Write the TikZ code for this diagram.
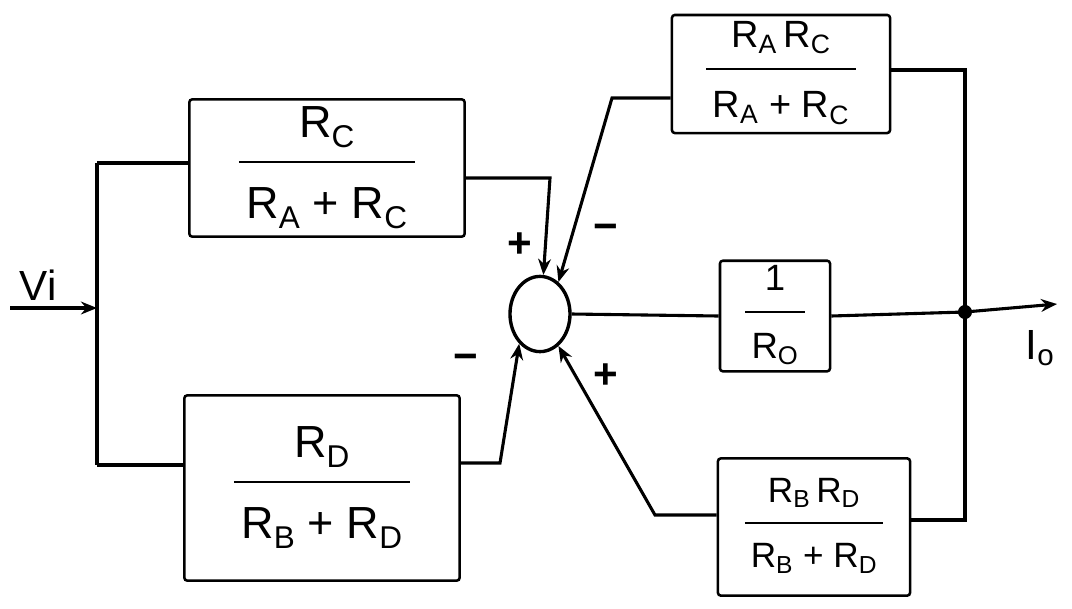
\documentclass[tikz,border=0pt]{standalone}
\usepackage{fontspec}
\setmainfont{Liberation Sans}
\usetikzlibrary{arrows.meta,shapes.geometric}
\setlength{\arrayrulewidth}{1.1pt}
\newcommand{\blkfrac}[2]{\begin{tabular}{@{\,}c@{\,}}#1\\[6pt]\hline\rule{0pt}{1.25em}#2\end{tabular}}

\begin{document}
\begin{tikzpicture}[x=0.025cm,y=-0.025cm,>={Stealth[length=4mm,width=3.2mm]},
 blk/.style={draw,line width=1.8pt,rounded corners=2pt,inner sep=0pt,align=center},
 w/.style={line width=2.2pt},
 a/.style={->,line width=2.2pt},
 sgn/.style={font=\fontsize{30}{32}\selectfont\bfseries}]
\useasboundingbox (0,0) rectangle (1072,608);

% forward blocks
\node[blk,minimum width=6.88cm,minimum height=3.43cm,font=\fontsize{32}{36}\selectfont] (tl) at (327,168)
 {\blkfrac{R\textsubscript{C}}{R\textsubscript{A} + R\textsubscript{C}}};
\node[blk,minimum width=6.88cm,minimum height=4.63cm,font=\fontsize{32}{36}\selectfont] (bl) at (322,488)
 {\blkfrac{R\textsubscript{D}}{R\textsubscript{B} + R\textsubscript{D}}};
\node[draw,ellipse,line width=2.4pt,minimum width=1.5cm,minimum height=1.88cm,inner sep=0pt] (sum) at (540,314) {};
\node[blk,minimum width=2.75cm,minimum height=2.58cm,font=\fontsize{26}{30}\selectfont] (ro) at (775,316)
 {\blkfrac{1}{R\textsubscript{O}}};
% feedback blocks
\node[blk,minimum width=5.45cm,minimum height=2.95cm,font=\fontsize{27}{30}\selectfont] (tr) at (781,74)
 {\blkfrac{R\textsubscript{A}\,R\textsubscript{C}}{R\textsubscript{A} + R\textsubscript{C}}};
\node[blk,minimum width=4.8cm,minimum height=3.43cm,font=\fontsize{25}{28}\selectfont] (br) at (814,527)
 {\blkfrac{R\textsubscript{B}\,R\textsubscript{D}}{R\textsubscript{B} + R\textsubscript{D}}};

\coordinate (vin) at (10,308);
\coordinate (jl) at (97,308);
\coordinate (jt) at (97,163);
\coordinate (jb) at (97,465);
\coordinate (tp) at (550,178);
\coordinate (bp) at (500,463);
\coordinate (fp) at (612,98);
\coordinate (gp) at (655,515);
\coordinate (jr) at (965,312);
\coordinate (jtop) at (965,70);
\coordinate (jbot) at (965,520);
\coordinate (out) at (1057,304);

% input and split
\draw[a] (vin) -- (jl);
\draw[w] (jt) -- (jb);
\draw[w] (jt) -- (tl.west |- jt);
\draw[w] (jb) -- (bl.west |- jb);
\draw[a] (tl.east |- tp) -- (tp) -- (sum.85);
\draw[a] (bl.east |- bp) -- (bp) -- (sum.235);
% forward path
\draw[w] (sum.east) -- (ro.west);
\draw[w] (ro.east) -- (jr);
\draw[a] (jr) -- (out);
\fill (jr) circle[radius=5pt];
% feedback
\draw[w] (tr.east |- jtop) -- (jtop) -- (jbot) -- (br.east |- jbot);
\draw[a] (tr.west |- fp) -- (fp) -- (sum.60);
\draw[a] (br.west |- gp) -- (gp) -- (sum.300);

% labels
\node[sgn] (s1) at (520,245) {+};
\node[sgn] (s2) at (606,232) {−};
\node[sgn] (s3) at (466,362) {−};
\node[sgn] (s4) at (606,376) {+};
\node[font=\fontsize{30}{34}\selectfont] (vi) at (38,285) {Vi};
\node[font=\fontsize{30}{34}\selectfont] (io) at (1040,348) {I\textsubscript{o}};
\end{tikzpicture}
\end{document}
